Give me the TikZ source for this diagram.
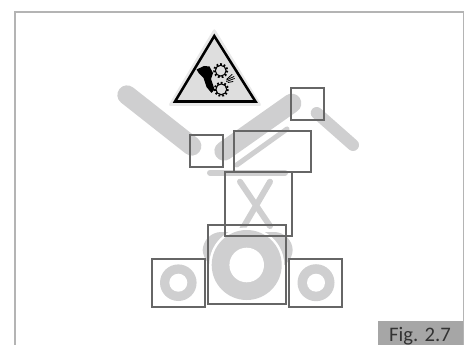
\documentclass[tikz,border=0pt]{standalone}
\usepackage{fontspec}
\setmainfont{Carlito}
\definecolor{shade}{HTML}{CFCFD0}
\definecolor{boxline}{HTML}{666666}
\definecolor{frameline}{HTML}{B4B4B4}
\definecolor{tabfill}{HTML}{A6A6A6}
\definecolor{signfill}{HTML}{DEDEDE}
\definecolor{signhalo}{HTML}{E9E9E9}
\tikzset{
  x=0.75pt,y=-0.75pt,
  bar/.style={draw=shade,line cap=round},
  wheel/.style={fill=shade,draw=none},
  hole/.style={fill=white,draw=none},
  framebox/.style={draw=boxline,line width=1.5pt,fill=none},
  gear/.style={draw=black,line width=0.8pt,fill=signfill},
  teeth/.style={draw=black,line width=1.5pt,dash pattern=on 1.3pt off 1.5pt},
  spark/.style={draw=black,line width=0.6pt,line cap=round},
  tab/.style={fill=tabfill,draw=none},
  tabtext/.style={text=black!80,font=\fontsize{15.5pt}{18pt}\selectfont,inner sep=0pt,anchor=base}
}
\begin{document}
\begin{tikzpicture}
\useasboundingbox (0,0) rectangle (466,345);
% frame
\draw[frameline,line width=1.2pt] (15,345) -- (15,12) -- (463.5,12) -- (463.5,345);
% levers
\draw[bar,line width=14.5pt] (127,95) -- (191.7,146);
\draw[bar,line width=14.5pt] (291.7,103.3) -- (224,151);
\draw[bar,line width=9pt] (316.7,113) -- (353,145);
\draw[bar,line width=3.8pt] (236.7,165) -- (287,129);
\draw[bar,line width=4.5pt] (210,172.7) -- (285,172.7);
\draw[bar,line width=4.5pt] (240,181.7) -- (270,226);
\draw[bar,line width=4.5pt] (270,181.7) -- (240,233);
% rollers
\fill[wheel,rounded corners=14pt] (202.7,232) rectangle (292.7,268);
\fill[hole] (246.7,265) circle (37.5);
\fill[wheel] (246.7,265) circle (35);
\fill[hole] (246.7,265) circle (17.3);
\fill[wheel] (178.3,282.7) circle (18.3);
\fill[hole] (178.3,282.7) circle (9);
\fill[wheel] (316,282.7) circle (18.5);
\fill[hole] (316,282.7) circle (9);
% boxes
\draw[framebox] (152,258.7) rectangle (204.7,306.7);
\draw[framebox] (207.7,225.3) rectangle (285.7,303.7);
\draw[framebox] (289.3,258.7) rectangle (342.3,306.7);
\draw[framebox] (225.3,172.3) rectangle (292.3,236);
\draw[framebox] (234,131.3) rectangle (310.7,172.3);
\draw[framebox] (190.3,134.7) rectangle (223,167);
\draw[framebox] (291,88) rectangle (323.7,120.3);
% warning sign
\fill[signhalo,rounded corners=2pt] (214.3,28) -- (262,106) -- (168,106) -- cycle;
\draw[black,line width=1.9pt,fill=signfill,line join=miter] (214.3,36) -- (255.5,101.5) -- (175,101.5) -- cycle;
\draw[teeth] (220.7,70.7) circle (6.5);
\draw[gear] (220.7,70.7) circle (5.4);
\draw[teeth] (221.3,89.3) circle (6.5);
\draw[gear] (221.3,89.3) circle (5.4);
\fill[black] (196.5,69.5) -- (204,66) -- (209.5,66.5) -- (213,73) -- (211,79) -- (214.5,89.5) -- (211.5,93) -- (206.5,87) -- (203.5,78) -- (199,73.5) -- cycle;
\draw[spark] (226.5,80) -- (234,76.5);
\draw[spark] (226.5,81.5) -- (234.5,78.5);
\draw[spark] (227,79) -- (232,74.5);
\draw[spark] (228,82.5) -- (233,81.5);
% figure tab
\fill[tab] (378,321) rectangle (463,345);
\node[tabtext] (figlabel) at (420,341.5) {Fig. 2.7};
\end{tikzpicture}
\end{document}
